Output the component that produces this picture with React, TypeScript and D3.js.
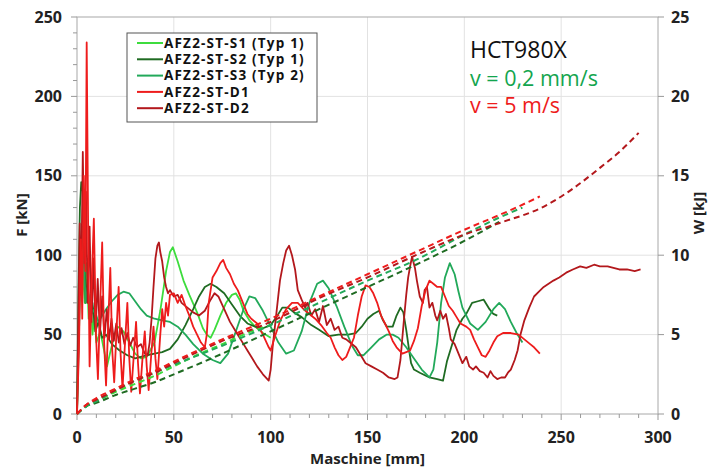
import React from "react";
import * as d3 from "d3";

// ---------- DATA ----------
const xTicks = [0, 50, 100, 150, 200, 250, 300];
const fTicks = [0, 50, 100, 150, 200, 250];
const wTicks = [0, 5, 10, 15, 20, 25];

const seriesNames = [
  "AFZ2-ST-S1 (Typ 1)",
  "AFZ2-ST-S2 (Typ 1)",
  "AFZ2-ST-S3 (Typ 2)",
  "AFZ2-ST-D1",
  "AFZ2-ST-D2",
];
const seriesColors = ["#3ddc3d", "#1f6b22", "#22a95a", "#ee1c1c", "#b3181c"];

const annotations = ["HCT980X", "v = 0,2 mm/s", "v = 5 m/s"];

// Force [kN] vs Maschine [mm]
const forceS1: [number, number][] = [
  [0, 0], [1, 60], [2, 110], [3, 90], [4, 70], [5, 95], [6, 60], [7, 75], [8, 50], [9, 62], [10, 45],
  [12, 52], [14, 40], [15.5, 30], [17, 38], [19, 48], [21, 55], [24, 52], [27, 45], [30, 38], [33, 35],
  [36, 36], [40, 45], [43, 65], [46, 90], [48, 102], [49.5, 105], [52, 96], [55, 84], [58, 75], [62, 64],
  [65, 54], [67, 50], [69, 48], [71, 53], [74, 62], [77, 70], [80, 75], [82, 76], [84, 72], [86, 65],
  [89, 59], [92, 55], [96, 51], [100, 48],
];
const forceS2: [number, number][] = [
  [0, 0], [0.8, 80], [1.5, 130], [2.2, 146], [3, 140], [3.8, 100], [4.5, 70], [5.5, 85], [6.5, 60],
  [8, 70], [9.5, 52], [11, 58], [13, 48], [15, 50], [18, 44], [22, 40], [26, 37], [30, 35], [33, 36],
  [36, 37], [40, 38], [44, 39], [48, 41], [52, 47], [56, 56], [60, 66], [63, 74], [66, 80], [69, 82],
  [72, 80], [76, 76], [80, 69], [84, 62], [88, 57], [92, 55], [96, 54], [100, 56], [103, 61], [106, 67],
  [109, 67], [112, 64], [116, 61], [121, 56], [125, 53], [130, 49], [135, 50], [140, 50], [144, 51],
  [147, 55], [150, 60], [153, 63], [156, 65], [158, 59], [160, 55], [163, 55], [165, 62], [167, 67],
  [168.5, 64], [170, 53], [171.5, 40], [172.5, 32], [174, 28], [177, 26], [182, 23], [186, 22],
  [189, 21], [191, 33], [194, 45], [196, 53], [199, 60], [201, 63], [204, 70], [207, 71], [210, 72],
  [213, 66], [215, 63], [217, 62],
];
const forceS3: [number, number][] = [
  [0, 0], [1, 50], [2, 100], [2.8, 118], [3.5, 95], [4.5, 70], [5.5, 80], [7, 62], [9, 66], [11, 58],
  [13, 62], [15, 66], [18, 71], [21, 75], [24, 77], [27, 76], [30, 71], [33, 66], [36, 62], [40, 60],
  [44, 59], [48, 58], [52, 55], [56, 50], [60, 44], [65, 38], [70, 34], [74, 32], [78, 38], [82, 52],
  [86, 66], [89, 74], [92, 73], [96, 65], [100, 55], [104, 45], [108, 38], [112, 40], [116, 52],
  [120, 70], [124, 82], [127, 84], [130, 79], [134, 68], [138, 55], [142, 43], [145, 37], [148, 37],
  [152, 42], [156, 47], [160, 50], [163, 50], [166, 48], [170, 42], [174, 35], [178, 28], [182, 23],
  [184, 28], [186, 45], [188, 70], [190, 86], [192.5, 95], [195, 88], [197, 77], [199, 67], [203, 57],
  [207, 53], [211, 58], [215, 66], [218, 70], [221, 66], [224, 58], [227, 51], [230, 45],
];
const forceD1: [number, number][] = [
  [0, 0], [1, 40], [2, 110], [2.7, 60], [3.5, 150], [4.3, 90], [5, 234], [5.8, 110], [6.5, 30],
  [7.5, 80], [8.7, 123], [9.8, 50], [10.8, 22], [12, 70], [13, 108], [14, 45], [15, 18], [16.2, 60],
  [17.2, 92], [18.2, 40], [19.2, 20], [20.5, 55], [21.5, 80], [22.5, 38], [23.5, 16], [24.8, 45],
  [26, 70], [27, 35], [28, 14], [29.5, 40], [30.5, 58], [31.5, 32], [32.5, 13], [34, 38], [35, 52],
  [36, 30], [37, 15], [38.5, 40], [39.5, 55], [40.5, 35], [41.5, 22], [43, 50], [44, 66], [45, 55],
  [46, 70], [47, 62], [48, 75], [50, 76], [52, 70], [54, 75], [56, 68],
  [58, 62], [60, 55], [62, 50], [64, 45], [66, 42], [67, 50], [68, 70], [70, 86], [72, 90], [74, 95],
  [75.5, 97], [77, 92], [79, 88], [81, 82], [83, 78], [85, 72], [88, 63], [90, 60], [93, 57], [96, 50],
  [99, 42], [100, 40], [102, 48], [105, 59], [108, 66], [111, 70], [114, 70], [117, 66], [120, 63],
  [123, 60], [126, 56], [129, 51], [131, 48], [133, 42], [135, 37], [137, 34], [139, 36], [141, 42],
  [143, 48], [145, 62], [147, 74], [149, 81], [151, 80], [153, 76], [155, 70], [157, 62], [159, 57],
  [161, 52], [163, 46], [165, 42], [168, 38], [170, 39], [172, 40], [174, 46], [176, 54], [178, 68],
  [180, 78], [182, 84], [184, 82], [186, 80], [188, 80], [190, 74], [192, 68], [194, 65], [196, 61],
  [198, 57], [201, 55], [203, 53], [205, 47], [207, 42], [209, 37], [211, 36], [213, 40], [215, 45],
  [217, 49], [220, 51], [224, 51], [228, 50], [231, 47], [234, 44], [236, 42], [239, 38],
];
const forceD2: [number, number][] = [
  [0, 0], [0.7, 60], [1.4, 120], [2.1, 75], [3, 165], [3.8, 95], [4.6, 140], [5.5, 70], [6.5, 118],
  [7.5, 58], [8.6, 98], [9.6, 52], [10.7, 85], [11.8, 50], [13, 74], [14.2, 48], [15.4, 66],
  [16.6, 47], [17.8, 60], [19, 46], [20.3, 57], [21.6, 45], [23, 54], [24.5, 44], [26, 51],
  [27.5, 43], [29, 48], [31, 42], [33, 44], [35, 38], [36.5, 37], [37.5, 45], [38.5, 60], [39.5, 80],
  [40.5, 98], [41.5, 106], [42.3, 108], [43, 102], [44, 96],
  [45, 86], [46, 80], [47, 76], [48, 78], [50, 74], [52, 75], [54, 70], [57, 67], [60, 64], [63, 62],
  [66, 65], [69, 72], [71, 76], [73, 74], [76, 66], [79, 58], [82, 52], [86, 44], [88, 40], [90, 36],
  [93, 30], [96, 25], [99, 21], [100, 28], [101, 42], [103, 64], [104.8, 84], [106.5, 95], [108, 103],
  [109.5, 106], [111, 100], [112.6, 91], [114, 78], [116, 72], [117.8, 67], [119, 70], [121, 62],
  [123, 66], [125, 58], [127, 68], [129, 56], [131, 60], [133, 53], [135, 55], [137, 48], [139, 47],
  [141, 45], [144, 42], [147, 36], [149, 32], [152, 30], [155, 28], [158, 26], [161, 23], [164, 22],
  [165.5, 23], [167, 34], [168, 48], [169, 62], [170, 75], [171, 86], [172, 93], [173, 99],
  [174.5, 92], [175.5, 84], [177, 74], [178.6, 70], [179.5, 78], [180.7, 80], [182, 67], [183.5, 70],
  [185, 62], [186, 59], [187.6, 65], [189, 60], [190.5, 63], [192, 54], [193, 47], [195, 44],
  [197, 38], [199, 32], [201, 36], [202.5, 30], [204.5, 28], [206, 30], [208, 27], [210, 26],
  [212, 23], [213.5, 27], [215, 24], [217, 22], [219, 23], [221, 23], [222.5, 26], [224, 28],
  [226, 34], [227.5, 40], [229, 50], [231, 59], [233.5, 67], [236, 74], [238.5, 77], [241, 80],
  [243.5, 82], [246, 84], [249, 86], [252.6, 89], [256, 91], [259.8, 93], [263, 92], [267, 94],
  [270, 93], [274, 93], [277, 92], [280, 91], [284, 91], [288, 90], [291, 91],
];

// Energy W [kJ] vs Maschine [mm]
const energyS1: [number, number][] = [
  [0, 0], [5, 0.5], [10, 0.8], [20, 1.4], [30, 1.9], [40, 2.4], [50, 3.0], [60, 3.6], [75, 4.4],
  [90, 5.2], [100, 5.6],
];
const energyS2: [number, number][] = [
  [0, 0], [5, 0.5], [10, 0.7], [20, 1.2], [30, 1.6], [40, 2.0], [50, 2.5], [75, 3.8], [100, 5.2],
  [125, 6.6], [150, 8.0], [175, 9.4], [200, 10.9], [218, 12.1],
];
const energyS3: [number, number][] = [
  [0, 0], [5, 0.5], [10, 0.8], [20, 1.5], [30, 2.1], [40, 2.6], [50, 3.1], [75, 4.3], [100, 5.6],
  [125, 7.0], [150, 8.4], [175, 9.7], [200, 11.3], [215, 12.2], [230, 13.0],
];
const energyD1: [number, number][] = [
  [0, 0], [5, 0.6], [10, 1.0], [20, 1.6], [30, 2.2], [40, 2.7], [50, 3.3], [75, 4.7], [100, 6.0],
  [125, 7.4], [150, 8.8], [175, 10.2], [200, 11.6], [225, 12.9], [239, 13.7],
];
const energyD2: [number, number][] = [
  [0, 0], [5, 0.6], [10, 0.9], [20, 1.5], [30, 2.1], [40, 2.6], [50, 3.2], [75, 4.6], [100, 5.8],
  [125, 7.3], [150, 8.6], [175, 10.0], [200, 11.3], [220, 12.1], [240, 13.0], [255, 14.1],
  [270, 15.5], [280, 16.5], [290, 17.7],
];

const forces = [forceS1, forceS2, forceS3, forceD1, forceD2];
const energies = [energyS1, energyS2, energyS3, energyD1, energyD2];

// ---------- CHART ----------
const WIDTH = 713;
const HEIGHT = 468;
const FONT = "'Open Sans', 'DejaVu Sans', sans-serif";

export default function App() {
  const x = d3.scaleLinear().domain([0, 300]).range([77, 658]);
  const yF = d3.scaleLinear().domain([0, 250]).range([414, 17]);
  const yW = d3.scaleLinear().domain([0, 25]).range([414, 17]);

  const lineF = d3
    .line<[number, number]>()
    .x((d) => x(d[0]))
    .y((d) => yF(d[1]));
  const lineW = d3
    .line<[number, number]>()
    .x((d) => x(d[0]))
    .y((d) => yW(d[1]))
    .curve(d3.curveMonotoneX);

  const xMinor = d3.range(0, 301, 10);
  const fMinor = d3.range(0, 251, 10);
  const [x0, x1] = x.range();
  const [y0, y1] = yF.range();

  const drawOrder = [0, 1, 2, 4, 3];

  return (
    <div style={{ position: "absolute", left: 0, top: 0 }}>
      <svg width={WIDTH} height={HEIGHT} style={{ display: "block", background: "#fff" }} fontFamily={FONT}>
        {/* grid */}
        {xTicks.slice(1, -1).map((t) => (
          <line key={"gx" + t} x1={x(t)} x2={x(t)} y1={y1} y2={y0} stroke="#e2e2e2" strokeWidth={1} />
        ))}
        {fTicks.slice(1, -1).map((t) => (
          <line key={"gy" + t} x1={x0} x2={x1} y1={yF(t)} y2={yF(t)} stroke="#e2e2e2" strokeWidth={1} />
        ))}
        <rect x={x0} y={y1} width={x1 - x0} height={y0 - y1} fill="none" stroke="#a8a8a8" strokeWidth={1} />

        {/* left axis ticks */}
        {fMinor.map((t) => (
          <line key={"lt" + t} x1={x0 - (t % 50 === 0 ? 6 : 4)} x2={x0} y1={yF(t)} y2={yF(t)} stroke="#999" />
        ))}
        {fTicks.map((t) => (
          <text key={"ll" + t} x={62} y={yF(t)} dy="0.35em" textAnchor="end" fontSize={16} fontWeight="bold" fill="#222">
            {t}
          </text>
        ))}
        {/* bottom axis ticks */}
        {xMinor.map((t) => (
          <line key={"bt" + t} x1={x(t)} x2={x(t)} y1={y0} y2={y0 + (t % 50 === 0 ? 6 : 4)} stroke="#999" />
        ))}
        {xTicks.map((t) => (
          <text key={"bl" + t} x={x(t)} y={443} textAnchor="middle" fontSize={16} fontWeight="bold" fill="#222">
            {t}
          </text>
        ))}
        {/* right axis ticks */}
        {wTicks.map((t) => (
          <line key={"rt" + t} x1={x1} x2={x1 + 6} y1={yW(t)} y2={yW(t)} stroke="#999" />
        ))}
        {wTicks.map((t) => (
          <text key={"rl" + t} x={671} y={yW(t)} dy="0.35em" textAnchor="start" fontSize={16} fontWeight="bold" fill="#222">
            {t}
          </text>
        ))}

        {/* axis titles */}
        <text x={(x0 + x1) / 2} y={464} textAnchor="middle" fontSize={15} fontWeight="bold" fill="#222">
          Maschine [mm]
        </text>
        <text transform={`translate(27, 215) rotate(-90)`} textAnchor="middle" fontSize={15} fontWeight="bold" fill="#222">
          F [kN]
        </text>
        <text transform={`translate(704, 213) rotate(-90)`} textAnchor="middle" fontSize={15} fontWeight="bold" fill="#222">
          W [kJ]
        </text>

        {/* force curves */}
        {drawOrder.map((i) => (
          <path key={"f" + i} d={lineF(forces[i]) || ""} fill="none" stroke={seriesColors[i]} strokeWidth={1.8} strokeLinejoin="round" />
        ))}
        {/* energy curves */}
        {drawOrder.map((i) => (
          <path key={"w" + i} d={lineW(energies[i]) || ""} fill="none" stroke={seriesColors[i]} strokeWidth={2} strokeDasharray="6 4" />
        ))}

        {/* legend */}
        <rect x={127} y={33} width={190} height={89} fill="#fff" stroke="#555" strokeWidth={1} />
        {seriesNames.map((n, i) => (
          <g key={"lg" + i} transform={`translate(0, ${43 + i * 16.3})`}>
            <line x1={137} x2={163} y1={0} y2={0} stroke={seriesColors[i]} strokeWidth={2} />
            <text x={164} y={0} dy="0.36em" fontSize={13.5} fontWeight="bold" letterSpacing={1.2} fill="#111">
              {n}
            </text>
          </g>
        ))}

        {/* annotations */}
        <text x={470} y={58} fontSize={23} fill="#111">{annotations[0]}</text>
        <text x={470} y={86} fontSize={21.5} fill="#13a54e">{annotations[1]}</text>
        <text x={470} y={113} fontSize={21.5} fill="#ee1c1c">{annotations[2]}</text>
      </svg>
    </div>
  );
}
